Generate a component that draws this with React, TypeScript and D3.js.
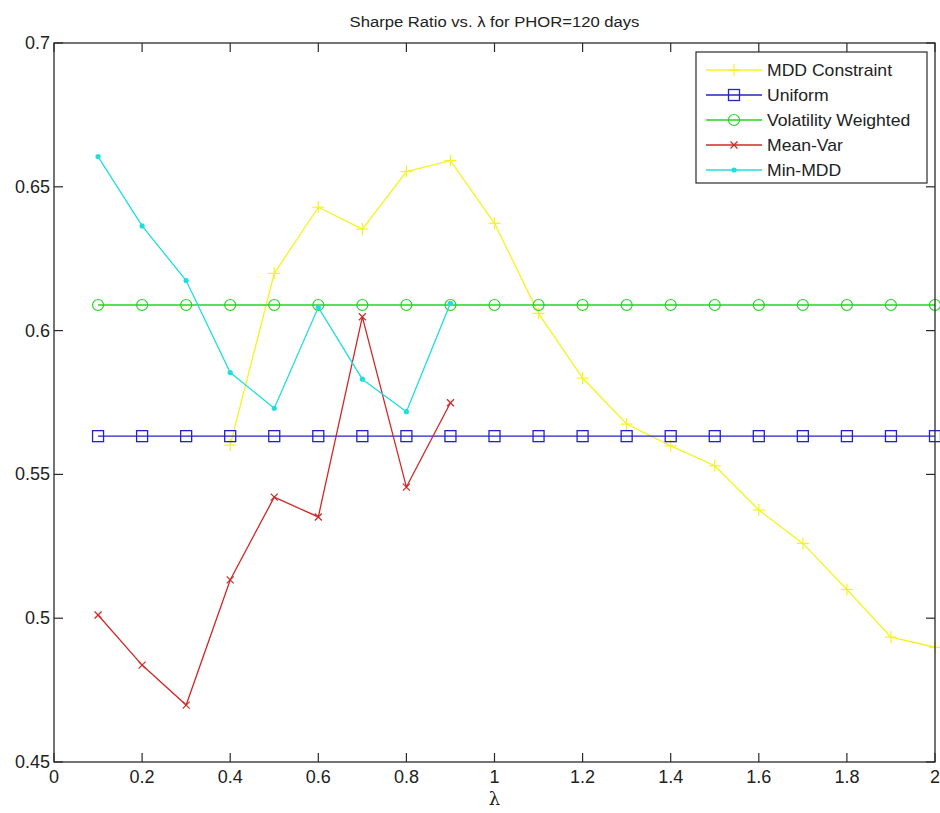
import React from "react";
import * as d3 from "d3";

const lambdas = [0.1, 0.2, 0.3, 0.4, 0.5, 0.6, 0.7, 0.8, 0.9, 1.0, 1.1, 1.2, 1.3, 1.4, 1.5, 1.6, 1.7, 1.8, 1.9, 2.0];
const mddConstraint = [null, null, null, 0.5602, 0.6199, 0.6429, 0.6353, 0.6553, 0.6591, 0.6373, 0.6060, 0.5835, 0.5675, 0.5599, 0.5530, 0.5376, 0.5260, 0.5100, 0.4934, 0.4899];
const uniform = [0.5633, 0.5633, 0.5633, 0.5633, 0.5633, 0.5633, 0.5633, 0.5633, 0.5633, 0.5633, 0.5633, 0.5633, 0.5633, 0.5633, 0.5633, 0.5633, 0.5633, 0.5633, 0.5633, 0.5633];
const volWeighted = [0.6089, 0.6089, 0.6089, 0.6089, 0.6089, 0.6089, 0.6089, 0.6089, 0.6089, 0.6089, 0.6089, 0.6089, 0.6089, 0.6089, 0.6089, 0.6089, 0.6089, 0.6089, 0.6089, 0.6089];
const meanVar = [0.5011, 0.4837, 0.4698, 0.5133, 0.5421, 0.5352, 0.6048, 0.5456, 0.5749, null, null, null, null, null, null, null, null, null, null, null];
const minMDD = [0.6605, 0.6364, 0.6174, 0.5854, 0.5730, 0.6081, 0.5831, 0.5718, 0.6095, null, null, null, null, null, null, null, null, null, null, null];

const xTicks = [0, 0.2, 0.4, 0.6, 0.8, 1, 1.2, 1.4, 1.6, 1.8, 2];
const yTicks = [0.45, 0.5, 0.55, 0.6, 0.65, 0.7];

const seriesNames = ["MDD Constraint", "Uniform", "Volatility Weighted", "Mean-Var", "Min-MDD"];
const seriesValues = [mddConstraint, uniform, volWeighted, meanVar, minMDD];
const seriesColors = ["#f4f41c", "#2424c4", "#22d422", "#d02828", "#20dede"];
const seriesMarkers = ["plus", "square", "circle", "x", "dot"];

const W = 940, H = 813;
const L = 54, R = 935, T = 43, B = 762;

function Marker({ type, x, y, color }: { type: string; x: number; y: number; color: string }) {
  if (type === "plus") {
    return <g stroke={color} strokeWidth={1.2}>
      <line x1={x - 6} x2={x + 6} y1={y} y2={y} />
      <line x1={x} x2={x} y1={y - 6} y2={y + 6} />
    </g>;
  }
  if (type === "square") {
    return <rect x={x - 5.5} y={y - 5.5} width={11} height={11} fill="none" stroke={color} strokeWidth={1.3} />;
  }
  if (type === "circle") {
    return <circle cx={x} cy={y} r={5.5} fill="none" stroke={color} strokeWidth={1.2} />;
  }
  if (type === "x") {
    return <g stroke={color} strokeWidth={1.2}>
      <line x1={x - 3.5} x2={x + 3.5} y1={y - 3.5} y2={y + 3.5} />
      <line x1={x - 3.5} x2={x + 3.5} y1={y + 3.5} y2={y - 3.5} />
    </g>;
  }
  return <circle cx={x} cy={y} r={2.6} fill={color} stroke="none" />;
}

export default function App() {
  const x = d3.scaleLinear().domain([0, 2]).range([L, R]);
  const y = d3.scaleLinear().domain([0.45, 0.7]).range([B, T]);
  const line = d3.line<[number, number | null]>()
    .defined(d => d[1] !== null)
    .x(d => x(d[0]))
    .y(d => y(d[1] as number));

  const font = "Arial, 'Liberation Sans', sans-serif";
  const legX = 696, legY = 52, legW = 231, legH = 131;
  const titleX = (L + R) / 2;

  return (
    <svg width={W} height={H} style={{ position: "absolute", left: 0, top: 0, background: "#fff" }}>
      <rect x={0} y={0} width={W} height={H} fill="#fff" />
      <g transform={`translate(${titleX},27) scale(1.11,1)`}>
        <text x={0} y={0} textAnchor="middle" fontFamily={font} fontSize={15} fill="#222">Sharpe Ratio vs. λ for PHOR=120 days</text>
      </g>

      {/* series */}
      {seriesValues.map((vals, i) => {
        const pts = lambdas.map((l, j) => [l, vals[j]] as [number, number | null]);
        return <g key={i}>
          <path d={line(pts) || ""} fill="none" stroke={seriesColors[i]} strokeWidth={1.3} />
          {pts.filter(p => p[1] !== null).map((p, k) => (
            <Marker key={k} type={seriesMarkers[i]} x={x(p[0])} y={y(p[1] as number)} color={seriesColors[i]} />
          ))}
        </g>;
      })}

      {/* axes box */}
      <rect x={L} y={T} width={R - L} height={B - T} fill="none" stroke="#2a2a2a" strokeWidth={1.3} />
      {xTicks.map((t, i) => (
        <g key={"xt" + i}>
          <line x1={x(t)} x2={x(t)} y1={B} y2={B - 9} stroke="#2a2a2a" strokeWidth={1.2} />
          <line x1={x(t)} x2={x(t)} y1={T} y2={T + 9} stroke="#2a2a2a" strokeWidth={1.2} />
          <text x={x(t)} y={B + 21} textAnchor="middle" fontFamily={font} fontSize={18} fill="#222">{String(t)}</text>
        </g>
      ))}
      {yTicks.map((t, i) => (
        <g key={"yt" + i}>
          <line x1={L} x2={L + 9} y1={y(t)} y2={y(t)} stroke="#2a2a2a" strokeWidth={1.2} />
          <line x1={R} x2={R - 9} y1={y(t)} y2={y(t)} stroke="#2a2a2a" strokeWidth={1.2} />
          <text x={L - 4} y={y(t) + 6} textAnchor="end" fontFamily={font} fontSize={18} fill="#222">{String(t)}</text>
        </g>
      ))}
      <text x={(L + R) / 2} y={805} textAnchor="middle" fontFamily="'DejaVu Serif', serif" fontSize={18} fill="#222">λ</text>

      {/* legend */}
      <rect x={legX} y={legY} width={legW} height={legH} fill="#fff" stroke="#2a2a2a" strokeWidth={1.2} />
      {seriesNames.map((n, i) => {
        const ly = 70 + i * 25;
        return <g key={"lg" + i}>
          <line x1={706} x2={762} y1={ly} y2={ly} stroke={seriesColors[i]} strokeWidth={1.3} />
          <Marker type={seriesMarkers[i]} x={734} y={ly} color={seriesColors[i]} />
          <g transform={`translate(767,${ly + 5.5}) scale(1.1,1)`}>
            <text x={0} y={0} fontFamily={font} fontSize={16} fill="#222">{n}</text>
          </g>
        </g>;
      })}
    </svg>
  );
}
